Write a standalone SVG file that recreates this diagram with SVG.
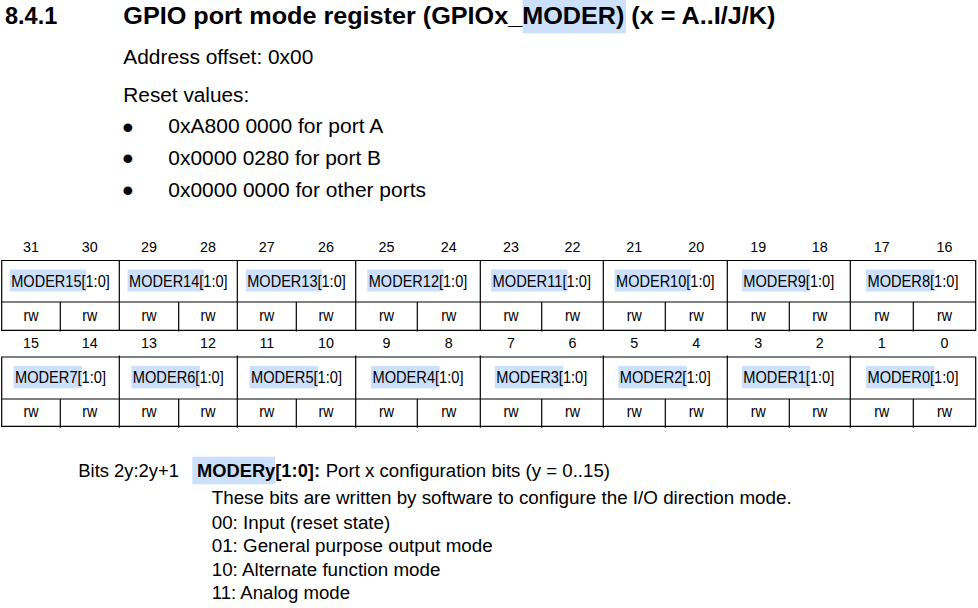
<svg xmlns="http://www.w3.org/2000/svg" width="978" height="608" viewBox="0 0 978 608">
<style>
text{font-family:"Liberation Sans",Arial,Helvetica,sans-serif;fill:#000}
.b{font-weight:bold}
.num{font-size:14.3px;text-anchor:middle}
.lbl{font-size:17px}
.rw{font-size:17px}
.hl{fill:#cce0fc}
.ln{stroke:#000;stroke-width:1.2;fill:none}
.body{font-size:19.5px}
.bul{font-size:32px}
.desc{font-size:18px}
</style>
<rect width="978" height="608" fill="#fff"/>
<g id="heading">
<rect class="hl" x="522.7" y="0" width="103.3" height="33.3"/>
<text class="b" x="5" y="23.5" font-size="23.5">8.4.1</text>
<text class="b" x="123.3" y="23.5" font-size="23.5" textLength="652" lengthAdjust="spacingAndGlyphs">GPIO port mode register (GPIOx_MODER) (x = A..I/J/K)</text>
<text class="body" x="123.3" y="64" textLength="190" lengthAdjust="spacingAndGlyphs">Address offset: 0x00</text>
<text class="body" x="123.3" y="102" textLength="126" lengthAdjust="spacingAndGlyphs">Reset values:</text>
<text class="bul" x="122.2" y="137.6">•</text>
<text class="body" x="168.3" y="133.3" textLength="215" lengthAdjust="spacingAndGlyphs">0xA800 0000 for port A</text>
<text class="bul" x="122.2" y="169.3">•</text>
<text class="body" x="168.3" y="165" textLength="212.7" lengthAdjust="spacingAndGlyphs">0x0000 0280 for port B</text>
<text class="bul" x="122.2" y="201">•</text>
<text class="body" x="168.3" y="196.7" textLength="257.7" lengthAdjust="spacingAndGlyphs">0x0000 0000 for other ports</text>
</g>
<g id="grid">
<path class="ln" d="M1.7 260.5H975.7V330.3H1.7Z M1.7 302H975.7 M119.3 260.5V330.3 M237.3 260.5V330.3 M355.7 260.5V330.3 M480.3 260.5V330.3 M603.3 260.5V330.3 M727.3 260.5V330.3 M850.3 260.5V330.3 M60.3 302V331.5 M178.7 302V331.5 M296.3 302V331.5 M417.3 302V331.5 M541.7 302V331.5 M665.3 302V331.5 M789.3 302V331.5 M913.3 302V331.5"/>
<path class="ln" d="M1.7 357H975.7V426.3H1.7Z M1.7 399H975.7 M119.3 355.5V427.8 M237.3 355.5V427.8 M355.7 355.5V427.8 M480.3 355.5V427.8 M603.3 355.5V427.8 M727.3 355.5V427.8 M850.3 355.5V427.8 M60.3 399V427.8 M178.7 399V427.8 M296.3 399V427.8 M417.3 399V427.8 M541.7 399V427.8 M665.3 399V427.8 M789.3 399V427.8 M913.3 399V427.8"/>
</g>
<g id="bitnums">
<text class="num" x="31" y="251.7">31</text><text class="num" x="89.8" y="251.7">30</text><text class="num" x="149" y="251.7">29</text><text class="num" x="208" y="251.7">28</text>
<text class="num" x="266.8" y="251.7">27</text><text class="num" x="326" y="251.7">26</text><text class="num" x="386.5" y="251.7">25</text><text class="num" x="448.8" y="251.7">24</text>
<text class="num" x="511" y="251.7">23</text><text class="num" x="572.5" y="251.7">22</text><text class="num" x="634.3" y="251.7">21</text><text class="num" x="696.3" y="251.7">20</text>
<text class="num" x="758.3" y="251.7">19</text><text class="num" x="819.8" y="251.7">18</text><text class="num" x="881.8" y="251.7">17</text><text class="num" x="944.5" y="251.7">16</text>
<text class="num" x="31" y="347.7">15</text><text class="num" x="89.8" y="347.7">14</text><text class="num" x="149" y="347.7">13</text><text class="num" x="208" y="347.7">12</text>
<text class="num" x="266.8" y="347.7">11</text><text class="num" x="326" y="347.7">10</text><text class="num" x="386.5" y="347.7">9</text><text class="num" x="448.8" y="347.7">8</text>
<text class="num" x="511" y="347.7">7</text><text class="num" x="572.5" y="347.7">6</text><text class="num" x="634.3" y="347.7">5</text><text class="num" x="696.3" y="347.7">4</text>
<text class="num" x="758.3" y="347.7">3</text><text class="num" x="819.8" y="347.7">2</text><text class="num" x="881.8" y="347.7">1</text><text class="num" x="944.5" y="347.7">0</text>
</g>
<g id="MODER15"><rect class="hl" x="9.75" y="269.5" width="76.5" height="22"/><text class="lbl" x="11.25" y="286.7" textLength="98.5" lengthAdjust="spacingAndGlyphs">MODER15[1:0]</text>
<text class="rw" x="23.5" y="320.7" textLength="15" lengthAdjust="spacingAndGlyphs">rw</text><text class="rw" x="82.3" y="320.7" textLength="15" lengthAdjust="spacingAndGlyphs">rw</text></g>
<g id="MODER14"><rect class="hl" x="127.55" y="269.5" width="76.5" height="22"/><text class="lbl" x="129.05" y="286.7" textLength="98.5" lengthAdjust="spacingAndGlyphs">MODER14[1:0]</text>
<text class="rw" x="141.5" y="320.7" textLength="15" lengthAdjust="spacingAndGlyphs">rw</text><text class="rw" x="200.5" y="320.7" textLength="15" lengthAdjust="spacingAndGlyphs">rw</text></g>
<g id="MODER13"><rect class="hl" x="245.75" y="269.5" width="76.5" height="22"/><text class="lbl" x="247.25" y="286.7" textLength="98.5" lengthAdjust="spacingAndGlyphs">MODER13[1:0]</text>
<text class="rw" x="259.3" y="320.7" textLength="15" lengthAdjust="spacingAndGlyphs">rw</text><text class="rw" x="318.5" y="320.7" textLength="15" lengthAdjust="spacingAndGlyphs">rw</text></g>
<g id="MODER12"><rect class="hl" x="367.25" y="269.5" width="76.5" height="22"/><text class="lbl" x="368.75" y="286.7" textLength="98.5" lengthAdjust="spacingAndGlyphs">MODER12[1:0]</text>
<text class="rw" x="379" y="320.7" textLength="15" lengthAdjust="spacingAndGlyphs">rw</text><text class="rw" x="441.3" y="320.7" textLength="15" lengthAdjust="spacingAndGlyphs">rw</text></g>
<g id="MODER11"><rect class="hl" x="491.05" y="269.5" width="76.5" height="22"/><text class="lbl" x="492.55" y="286.7" textLength="98.5" lengthAdjust="spacingAndGlyphs">MODER11[1:0]</text>
<text class="rw" x="503.5" y="320.7" textLength="15" lengthAdjust="spacingAndGlyphs">rw</text><text class="rw" x="565" y="320.7" textLength="15" lengthAdjust="spacingAndGlyphs">rw</text></g>
<g id="MODER10"><rect class="hl" x="614.55" y="269.5" width="76.5" height="22"/><text class="lbl" x="616.05" y="286.7" textLength="98.5" lengthAdjust="spacingAndGlyphs">MODER10[1:0]</text>
<text class="rw" x="626.8" y="320.7" textLength="15" lengthAdjust="spacingAndGlyphs">rw</text><text class="rw" x="688.8" y="320.7" textLength="15" lengthAdjust="spacingAndGlyphs">rw</text></g>
<g id="MODER9"><rect class="hl" x="741.8" y="269.5" width="68.5" height="22"/><text class="lbl" x="743.3" y="286.7" textLength="91" lengthAdjust="spacingAndGlyphs">MODER9[1:0]</text>
<text class="rw" x="750.8" y="320.7" textLength="15" lengthAdjust="spacingAndGlyphs">rw</text><text class="rw" x="812.3" y="320.7" textLength="15" lengthAdjust="spacingAndGlyphs">rw</text></g>
<g id="MODER8"><rect class="hl" x="866" y="269.5" width="68.5" height="22"/><text class="lbl" x="867.5" y="286.7" textLength="91" lengthAdjust="spacingAndGlyphs">MODER8[1:0]</text>
<text class="rw" x="874.3" y="320.7" textLength="15" lengthAdjust="spacingAndGlyphs">rw</text><text class="rw" x="937" y="320.7" textLength="15" lengthAdjust="spacingAndGlyphs">rw</text></g>
<g id="MODER7"><rect class="hl" x="13.5" y="366" width="68.5" height="22.3"/><text class="lbl" x="15" y="383.3" textLength="91" lengthAdjust="spacingAndGlyphs">MODER7[1:0]</text>
<text class="rw" x="23.5" y="416.7" textLength="15" lengthAdjust="spacingAndGlyphs">rw</text><text class="rw" x="82.3" y="416.7" textLength="15" lengthAdjust="spacingAndGlyphs">rw</text></g>
<g id="MODER6"><rect class="hl" x="131.3" y="366" width="68.5" height="22.3"/><text class="lbl" x="132.8" y="383.3" textLength="91" lengthAdjust="spacingAndGlyphs">MODER6[1:0]</text>
<text class="rw" x="141.5" y="416.7" textLength="15" lengthAdjust="spacingAndGlyphs">rw</text><text class="rw" x="200.5" y="416.7" textLength="15" lengthAdjust="spacingAndGlyphs">rw</text></g>
<g id="MODER5"><rect class="hl" x="249.5" y="366" width="68.5" height="22.3"/><text class="lbl" x="251" y="383.3" textLength="91" lengthAdjust="spacingAndGlyphs">MODER5[1:0]</text>
<text class="rw" x="259.3" y="416.7" textLength="15" lengthAdjust="spacingAndGlyphs">rw</text><text class="rw" x="318.5" y="416.7" textLength="15" lengthAdjust="spacingAndGlyphs">rw</text></g>
<g id="MODER4"><rect class="hl" x="371" y="366" width="68.5" height="22.3"/><text class="lbl" x="372.5" y="383.3" textLength="91" lengthAdjust="spacingAndGlyphs">MODER4[1:0]</text>
<text class="rw" x="379" y="416.7" textLength="15" lengthAdjust="spacingAndGlyphs">rw</text><text class="rw" x="441.3" y="416.7" textLength="15" lengthAdjust="spacingAndGlyphs">rw</text></g>
<g id="MODER3"><rect class="hl" x="494.8" y="366" width="68.5" height="22.3"/><text class="lbl" x="496.3" y="383.3" textLength="91" lengthAdjust="spacingAndGlyphs">MODER3[1:0]</text>
<text class="rw" x="503.5" y="416.7" textLength="15" lengthAdjust="spacingAndGlyphs">rw</text><text class="rw" x="565" y="416.7" textLength="15" lengthAdjust="spacingAndGlyphs">rw</text></g>
<g id="MODER2"><rect class="hl" x="618.3" y="366" width="68.5" height="22.3"/><text class="lbl" x="619.8" y="383.3" textLength="91" lengthAdjust="spacingAndGlyphs">MODER2[1:0]</text>
<text class="rw" x="626.8" y="416.7" textLength="15" lengthAdjust="spacingAndGlyphs">rw</text><text class="rw" x="688.8" y="416.7" textLength="15" lengthAdjust="spacingAndGlyphs">rw</text></g>
<g id="MODER1"><rect class="hl" x="741.8" y="366" width="68.5" height="22.3"/><text class="lbl" x="743.3" y="383.3" textLength="91" lengthAdjust="spacingAndGlyphs">MODER1[1:0]</text>
<text class="rw" x="750.8" y="416.7" textLength="15" lengthAdjust="spacingAndGlyphs">rw</text><text class="rw" x="812.3" y="416.7" textLength="15" lengthAdjust="spacingAndGlyphs">rw</text></g>
<g id="MODER0"><rect class="hl" x="866" y="366" width="68.5" height="22.3"/><text class="lbl" x="867.5" y="383.3" textLength="91" lengthAdjust="spacingAndGlyphs">MODER0[1:0]</text>
<text class="rw" x="874.3" y="416.7" textLength="15" lengthAdjust="spacingAndGlyphs">rw</text><text class="rw" x="937" y="416.7" textLength="15" lengthAdjust="spacingAndGlyphs">rw</text></g>
<g id="description">
<rect class="hl" x="192.3" y="456.7" width="82.7" height="27.6"/>
<text class="desc" x="78.3" y="476.5" textLength="100.7" lengthAdjust="spacingAndGlyphs">Bits 2y:2y+1</text>
<text class="desc b" x="197" y="476.5" textLength="123" lengthAdjust="spacingAndGlyphs">MODERy[1:0]:</text>
<text class="desc" x="325.7" y="476.5" textLength="284.3" lengthAdjust="spacingAndGlyphs">Port x configuration bits (y = 0..15)</text>
<text class="desc" x="211.7" y="503.5" textLength="580" lengthAdjust="spacingAndGlyphs">These bits are written by software to configure the I/O direction mode.</text>
<text class="desc" x="211.7" y="528.5" textLength="178.6" lengthAdjust="spacingAndGlyphs">00: Input (reset state)</text>
<text class="desc" x="211.7" y="552" textLength="281" lengthAdjust="spacingAndGlyphs">01: General purpose output mode</text>
<text class="desc" x="211.7" y="575.5" textLength="228.7" lengthAdjust="spacingAndGlyphs">10: Alternate function mode</text>
<text class="desc" x="211.7" y="598.5" textLength="138.3" lengthAdjust="spacingAndGlyphs">11: Analog mode</text>
</g>
</svg>
